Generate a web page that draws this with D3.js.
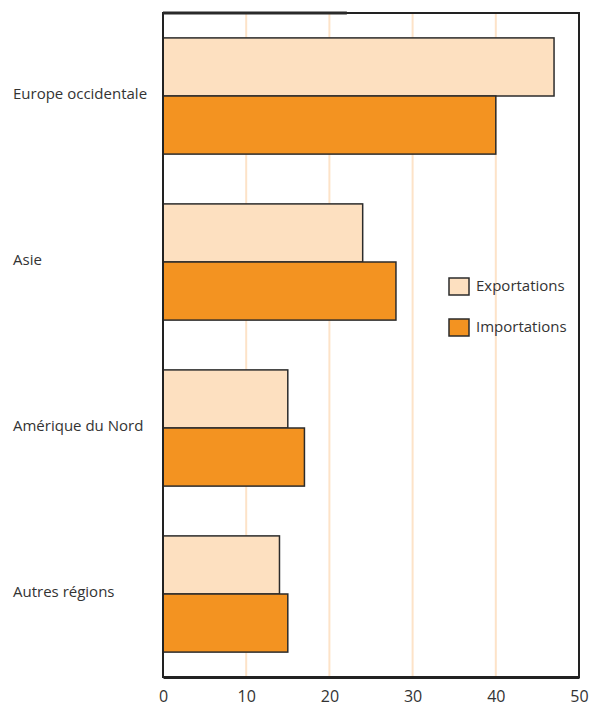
<!DOCTYPE html>
<html>
<head>
<meta charset="utf-8">
<script src="https://cdn.jsdelivr.net/npm/d3@7"></script>
<style>
  html, body { margin: 0; padding: 0; background: #fff; }
  text { font-family: "Open Sans", "Noto Sans", sans-serif; fill: #333; }
</style>
</head>
<body>
<svg id="chart" width="598" height="706"></svg>
<script>
const categories = ["Europe occidentale", "Asie", "Amérique du Nord", "Autres régions"];
const seriesNames = ["Exportations", "Importations"];
const exportations = [47, 24, 15, 14];
const importations = [40, 28, 17, 15];
const tickValues = [0, 10, 20, 30, 40, 50];
const colors = ["#fde0c0", "#f39321"];

(function () {
const svg = d3.select("#chart");
const pLeft = 163, pRight = 579, pTop = 13, pBottom = 677;

const x = d3.scaleLinear().domain([0, 50]).range([pLeft, pRight]);
const y = d3.scaleBand().domain(categories).range([pTop, pBottom]).paddingInner(0.3).paddingOuter(0.15);
const ySub = d3.scaleBand().domain(seriesNames).range([0, y.bandwidth()]);

// gridlines
svg.append("g").selectAll("line").data(tickValues.filter(d => d > 0 && d < 50)).join("line")
  .attr("x1", d => x(d)).attr("x2", d => x(d))
  .attr("y1", pTop).attr("y2", pBottom)
  .attr("stroke", "#fde3c8").attr("stroke-width", 2);

// bars
const data = categories.map((c, i) => ({ cat: c, vals: [exportations[i], importations[i]] }));
const groups = svg.append("g").selectAll("g").data(data).join("g")
  .attr("transform", d => `translate(0,${y(d.cat)})`);
groups.selectAll("rect").data(d => d.vals.map((v, j) => ({ name: seriesNames[j], v, j }))).join("rect")
  .attr("x", x(0))
  .attr("y", d => ySub(d.name))
  .attr("width", d => x(d.v) - x(0))
  .attr("height", ySub.bandwidth())
  .attr("fill", d => colors[d.j])
  .attr("stroke", "#2b2b2b").attr("stroke-width", 1.5);

// frame
svg.append("rect").attr("x", pLeft).attr("y", pTop).attr("width", pRight - pLeft).attr("height", pBottom - pTop)
  .attr("fill", "none").attr("stroke", "#222").attr("stroke-width", 2);
svg.append("line").attr("x1", pLeft).attr("x2", x(22.1)).attr("y1", pTop).attr("y2", pTop)
  .attr("stroke", "#2a2a2a").attr("stroke-width", 3);

// x axis
const xAxis = d3.axisBottom(x).tickValues(tickValues).tickSize(0).tickPadding(14).tickFormat(d3.format("d"));
const ax = svg.append("g").attr("transform", `translate(0,${pBottom})`).call(xAxis);
ax.select(".domain").attr("stroke", "#222").attr("stroke-width", 3);
ax.selectAll("text").style("font-family", '"Open Sans", sans-serif').style("font-size", "16px").attr("fill", "#333")
  .attr("dx", 0);

// category labels
svg.append("g").selectAll("text").data(categories).join("text")
  .attr("x", 13).attr("y", d => y(d) + y.bandwidth() / 2 - 1)
  .attr("dominant-baseline", "middle")
  .style("font-size", "15px")
  .text(d => d);

// legend
const legend = svg.append("g").attr("transform", "translate(449,278)");
const li = legend.selectAll("g").data(seriesNames).join("g")
  .attr("transform", (d, i) => `translate(0,${i * 41})`);
li.append("rect").attr("width", 20).attr("height", 17)
  .attr("fill", (d, i) => colors[i]).attr("stroke", "#2b2b2b").attr("stroke-width", 1.5);
li.append("text").attr("x", 27).attr("y", 9).attr("dominant-baseline", "middle")
  .style("font-size", "15px").text(d => d);
})();
</script>
</body>
</html>
